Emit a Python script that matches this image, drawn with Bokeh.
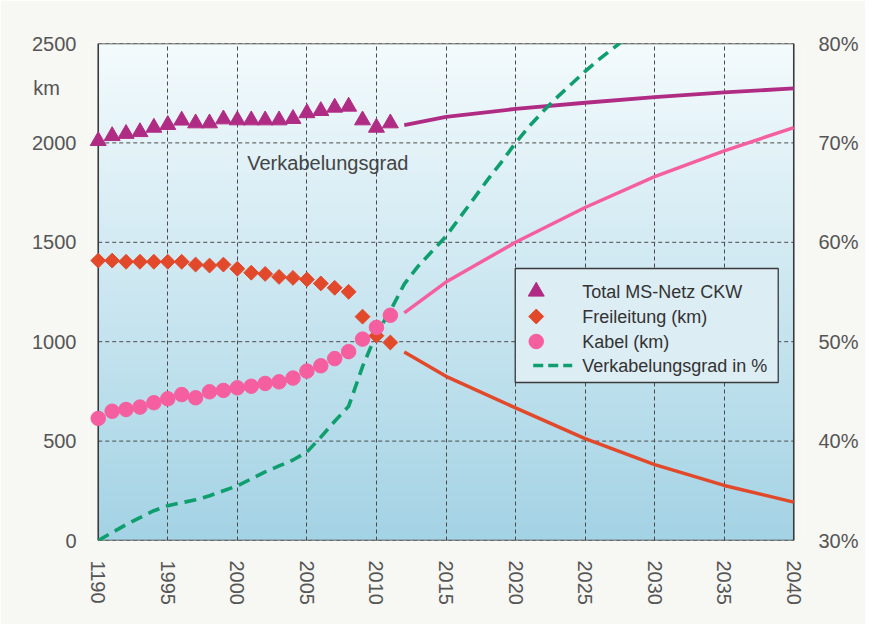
import numpy as np
from bokeh.plotting import figure
from bokeh.models import Range1d, LinearAxis, FixedTicker
from bokeh.core.properties import value
from bokeh.embed import file_html
from bokeh.resources import INLINE

# ---------------- data ----------------
years_hist = list(range(1990, 2012))
total_hist = [2010, 2035, 2046, 2055, 2077, 2091, 2113, 2099, 2099, 2119, 2114,
              2114, 2114, 2114, 2121, 2150, 2161, 2178, 2183, 2114, 2077, 2099]
frei_hist = [1408, 1408, 1402, 1402, 1402, 1402, 1402, 1388, 1383, 1388, 1367,
             1347, 1341, 1326, 1321, 1313, 1293, 1271, 1251, 1126, 1030, 996]
kabel_hist = [614, 650, 659, 671, 693, 713, 734, 718, 748, 755, 768,
              776, 790, 798, 817, 852, 879, 915, 950, 1013, 1072, 1133]

proj_years = [2012, 2015, 2020, 2025, 2030, 2035, 2040]
total_proj = [2089, 2131, 2171, 2202, 2230, 2254, 2274]
frei_proj = [948, 826, 667, 512, 382, 277, 193]
kabel_proj = [1145, 1300, 1500, 1675, 1830, 1960, 2077]

grad_years = list(range(1990, 2029))
grad_pct = [30.0, 30.8, 31.6, 32.3, 33.0, 33.5, 33.8, 34.1, 34.5, 35.0,
            35.5, 36.2, 36.9, 37.5, 38.1, 38.9, 40.4, 42.0, 43.5, 47.5,
            50.8, 53.1, 55.8, 57.6, 59.1, 60.6, 62.5, 64.4, 66.3, 68.1,
            70.0, 71.7, 73.2, 74.6, 75.9, 77.2, 78.4, 79.5, 80.6]

x_ticks = list(range(1990, 2041, 5))
x_tick_labels = {t: str(t) for t in x_ticks}
x_tick_labels[1990] = "1190"
y_ticks = [0, 500, 1000, 1500, 2000, 2500]
y_tick_labels = {t: str(t) for t in y_ticks}
unit_label = "km"
unit_pos = 2274
pct_ticks = [30, 40, 50, 60, 70, 80]
pct_labels = {t: f"{t}%" for t in pct_ticks}

series_names = ["Total MS-Netz CKW", "Freileitung (km)", "Kabel (km)",
                "Verkabelungsgrad in %"]

# ---------------- style ----------------
FONT = "Liberation Sans"
C_TOTAL = "#b02c84"
C_FREI = "#e2482a"
C_KABEL = "#f55fa0"
C_GRAD = "#0f9e6d"
TXT = "#555555"
PAGE = "#f7f7f3"

X0, X1 = 1990, 2040
Y0, Y1 = 0, 2500
PAD = 0.7
FW, FH = 715, 497          # frame size in px
PX_PER_YEAR = FW / (X1 - X0 + 2 * PAD)
PX_PER_KM = FH / (Y1 - Y0)

p = figure(frame_width=FW, frame_height=FH, min_border_left=88,
           min_border_right=62, min_border_top=43, min_border_bottom=84,
           x_range=Range1d(X0 - PAD, X1 + PAD), y_range=Range1d(Y0, Y1),
           output_backend="svg", toolbar_location=None)
p.border_fill_color = PAGE
p.background_fill_color = PAGE
p.outline_line_color = None
p.extra_y_ranges = {"pct": Range1d(30, 80)}


def dx(px):
    """horizontal pixel offset from the 1990 edge -> data x"""
    return X0 + px / PX_PER_YEAR


def dy(px):
    """vertical pixel offset from the top edge (2500) -> data y"""
    return Y1 - px / PX_PER_KM


# gradient background of the plotting box
n = 256
t = np.linspace(0, 1, n)
r = (164 + (244 - 164) * t).astype(np.uint8)
g = (211 + (251 - 211) * t).astype(np.uint8)
b = (229 + (253 - 229) * t).astype(np.uint8)
img = np.empty((n, 1), dtype=np.uint32)
view = img.view(dtype=np.uint8).reshape((n, 1, 4))
view[:, 0, 0] = r
view[:, 0, 1] = g
view[:, 0, 2] = b
view[:, 0, 3] = 255
p.image_rgba(image=[img], x=X0, y=Y0, dw=X1 - X0, dh=Y1 - Y0, level="image")

# grid
p.xgrid.ticker = FixedTicker(ticks=x_ticks)
p.xgrid.grid_line_color = "#4a4a4a"
p.xgrid.grid_line_dash = "4 3"
p.xgrid.grid_line_width = 1
p.ygrid.grid_line_color = None
p.segment(x0=[X0] * len(y_ticks), x1=[X1] * len(y_ticks), y0=y_ticks, y1=y_ticks,
          line_color="#4a4a4a", line_dash="4 3", line_width=1)

# box outline
p.quad(left=[X0], right=[X1], bottom=[Y0], top=[Y1], fill_color=None,
       line_color="#3a3a3a", line_width=1.6)

# axes
p.xaxis.ticker = FixedTicker(ticks=x_ticks)
p.xaxis.major_label_overrides = x_tick_labels
p.xaxis.major_label_orientation = "vertical"
# the unit "km" sits under 2500, centred further left (padded with no-break spaces)
left_labels = dict(y_tick_labels)
left_labels[unit_pos] = unit_label + "\u00a0" * 3
p.yaxis.ticker = FixedTicker(ticks=y_ticks + [unit_pos])
p.yaxis.major_label_overrides = left_labels
for ax in [p.xaxis[0], p.yaxis[0]]:
    ax.axis_line_color = None
    ax.major_tick_line_color = None
    ax.minor_tick_line_color = None
    ax.major_label_text_font = FONT
    ax.major_label_text_font_size = "20px"
    ax.major_label_text_color = TXT
p.xaxis.major_label_standoff = 14
p.yaxis.major_label_standoff = 6

ax_r = LinearAxis(y_range_name="pct", ticker=FixedTicker(ticks=pct_ticks))
ax_r.major_label_overrides = pct_labels
ax_r.axis_line_color = None
ax_r.major_tick_line_color = None
ax_r.minor_tick_line_color = None
ax_r.major_label_text_font = FONT
ax_r.major_label_text_font_size = "20px"
ax_r.major_label_text_color = TXT
ax_r.major_label_standoff = 9
p.add_layout(ax_r, "right")

# projections
p.line(proj_years, total_proj, line_color=C_TOTAL, line_width=3.8)
p.line(proj_years, kabel_proj, line_color=C_KABEL, line_width=3.5)
p.line(proj_years, frei_proj, line_color=C_FREI, line_width=3.5)

# Verkabelungsgrad
p.line(grad_years, grad_pct, y_range_name="pct", line_color=C_GRAD,
       line_width=3.6, line_dash="12 7")

# markers
p.scatter(years_hist, total_hist, marker="triangle", size=16,
          fill_color=C_TOTAL, line_color=C_TOTAL)
p.scatter(years_hist, frei_hist, marker="square", angle=np.pi / 4,
          size=10.5, fill_color=C_FREI, line_color=C_FREI)
p.scatter(years_hist, kabel_hist, marker="circle", size=14.5,
          fill_color=C_KABEL, line_color=C_KABEL)

# text in the plot
p.text(x=[dx(149)], y=[dy(119)], text=["Verkabelungsgrad"],
       text_font=value(FONT), text_font_size="20px", text_color="#444444",
       text_align="left", text_baseline="middle")

# legend (drawn by hand so that the symbols keep their size and shape)
LG_L, LG_R, LG_T, LG_B = 417, 680, 225, 339      # box, px from frame's 1990/2500 corner
ROWS = [248, 273, 298, 322]
SYM_X, DASH_X0, DASH_X1, TXT_X = 438, 435, 474, 484
p.quad(left=[dx(LG_L)], right=[dx(LG_R)], top=[dy(LG_T)], bottom=[dy(LG_B)],
       fill_color="#dcedf4", line_color="#3a3a3a", line_width=1.3)
p.scatter([dx(SYM_X)], [dy(ROWS[0])], marker="triangle", size=16,
          fill_color=C_TOTAL, line_color=C_TOTAL)
p.scatter([dx(SYM_X)], [dy(ROWS[1])], marker="square", angle=np.pi / 4,
          size=10.5, fill_color=C_FREI, line_color=C_FREI)
p.scatter([dx(SYM_X)], [dy(ROWS[2])], marker="circle", size=14.5,
          fill_color=C_KABEL, line_color=C_KABEL)
p.line([dx(DASH_X0), dx(DASH_X1)], [dy(ROWS[3])] * 2, line_color=C_GRAD,
       line_width=3.6, line_dash="10 5")
p.text(x=[dx(TXT_X)] * 4, y=[dy(v) for v in ROWS], text=series_names,
       text_font=value(FONT), text_font_size="18px", text_color="#333333",
       text_align="left", text_baseline="middle")

open("out.html", "w").write(file_html(p, INLINE))
